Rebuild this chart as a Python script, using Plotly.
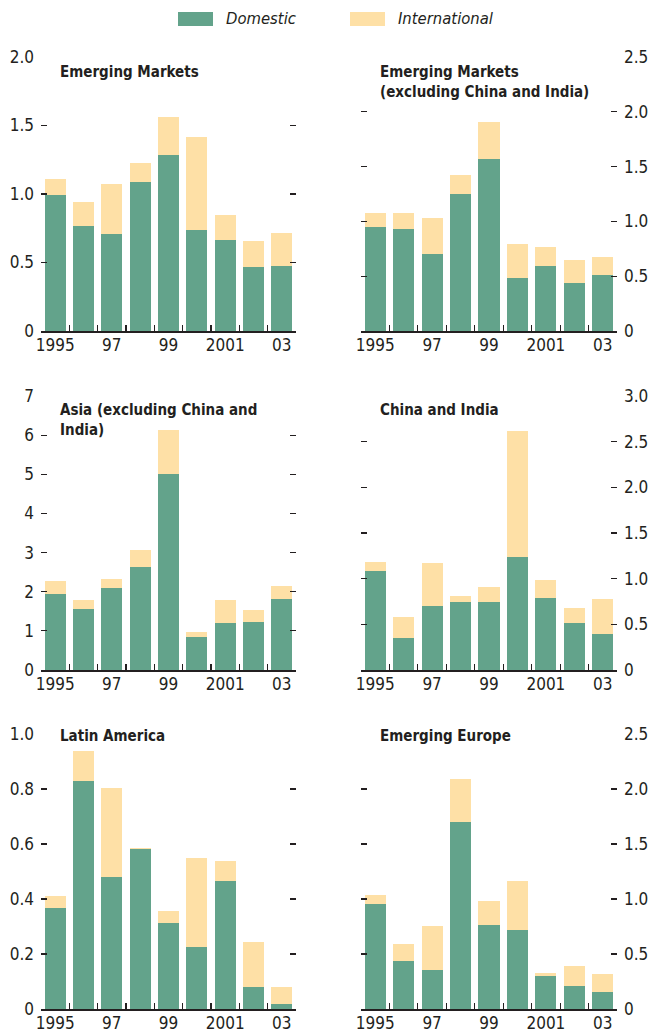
import plotly.graph_objects as go

# ---------------- data ----------------
years = ["1995", "1996", "1997", "1998", "1999", "2000", "2001", "2002", "2003"]
year_labels = ["1995", "", "97", "", "99", "", "2001", "", "03"]

series_names = ["Domestic", "International"]

em_total_dom = [0.99, 0.765, 0.707, 1.086, 1.283, 0.736, 0.663, 0.467, 0.474]
em_total_int = [0.118, 0.175, 0.365, 0.139, 0.277, 0.678, 0.183, 0.189, 0.240]

em_excl_dom = [0.952, 0.933, 0.706, 1.252, 1.570, 0.488, 0.597, 0.442, 0.515]
em_excl_int = [0.127, 0.146, 0.327, 0.172, 0.336, 0.309, 0.173, 0.210, 0.164]

asia_dom = [1.94, 1.56, 2.10, 2.63, 5.01, 0.84, 1.20, 1.23, 1.81]
asia_int = [0.33, 0.23, 0.23, 0.44, 1.12, 0.13, 0.59, 0.30, 0.34]

china_india_dom = [1.084, 0.350, 0.701, 0.745, 0.745, 1.237, 0.788, 0.515, 0.394]
china_india_int = [0.098, 0.230, 0.471, 0.065, 0.164, 1.380, 0.197, 0.164, 0.383]

latam_dom = [0.367, 0.829, 0.480, 0.582, 0.313, 0.225, 0.465, 0.080, 0.018]
latam_int = [0.044, 0.109, 0.324, 0.003, 0.043, 0.324, 0.073, 0.164, 0.062]

europe_dom = [0.955, 0.436, 0.355, 1.700, 0.764, 0.718, 0.300, 0.209, 0.155]
europe_int = [0.081, 0.155, 0.400, 0.391, 0.218, 0.446, 0.027, 0.182, 0.163]

titles = [
    "Emerging Markets",
    "Emerging Markets<br>(excluding China and India)",
    "Asia (excluding China and<br>India)",
    "China and India",
    "Latin America",
    "Emerging Europe",
]

ticks_2 = [0, 0.5, 1.0, 1.5, 2.0]
ticks_2_5 = [0, 0.5, 1.0, 1.5, 2.0, 2.5]
ticks_3 = [0, 0.5, 1.0, 1.5, 2.0, 2.5, 3.0]
ticks_7 = [0, 1, 2, 3, 4, 5, 6, 7]
ticks_1 = [0, 0.2, 0.4, 0.6, 0.8, 1.0]

ticktext_2 = ["0", "0.5", "1.0", "1.5", "2.0"]
ticktext_2_5 = ["0", "0.5", "1.0", "1.5", "2.0", "2.5"]
ticktext_3 = ["0", "0.5", "1.0", "1.5", "2.0", "2.5", "3.0"]
ticktext_7 = ["0", "1", "2", "3", "4", "5", "6", "7"]
ticktext_1 = ["0", "0.2", "0.4", "0.6", "0.8", "1.0"]

# ---------------- style ----------------
GREEN = "#63a38b"
YELLOW = "#fee0a6"
INK = "#231f20"
FONT = "DejaVu Sans Condensed, Liberation Sans Narrow, Arial Narrow, sans-serif"

W, H = 650, 1033
col_px = [(41, 296), (361, 617)]
row_px = [(57, 331), (396, 670), (734, 1009)]

ML = col_px[0][0]
MR = W - col_px[1][1]
MT = row_px[0][0]
MB = H - row_px[2][1]
PW = W - ML - MR
PH = H - MT - MB


def xdom(c):
    a, b = col_px[c]
    return [(a - ML) / PW, (b - ML) / PW]


def ydom(r):
    a, b = row_px[r]
    return [(H - MB - b) / PH, (H - MB - a) / PH]


def px_x(xp):   # pixel -> paper
    return (xp - ML) / PW


def px_y(yp):
    return (H - MB - yp) / PH


panels = [
    (em_total_dom, em_total_int, [0, 2.0], ticks_2, ticktext_2),
    (em_excl_dom, em_excl_int, [0, 2.5], ticks_2_5, ticktext_2_5),
    (asia_dom, asia_int, [0, 7], ticks_7, ticktext_7),
    (china_india_dom, china_india_int, [0, 3.0], ticks_3, ticktext_3),
    (latam_dom, latam_int, [0, 1.0], ticks_1, ticktext_1),
    (europe_dom, europe_int, [0, 2.5], ticks_2_5, ticktext_2_5),
]
title_top_px = [65, 65, 403, 403, 729, 729]

fig = go.Figure()
layout = dict(
    width=W, height=H,
    margin=dict(l=ML, r=MR, t=MT, b=MB, autoexpand=False),
    paper_bgcolor="white", plot_bgcolor="white",
    barmode="stack", bargap=0.26,
    showlegend=False,
    font=dict(family=FONT, size=17, color=INK),
)
annotations = []
shapes = []

for i, (dom, intl, yr, tv, tt) in enumerate(panels):
    n = i + 1
    r, c = divmod(i, 2)
    xa = "x" if n == 1 else f"x{n}"
    ya = "y" if n == 1 else f"y{n}"
    fig.add_trace(go.Bar(x=years, y=dom, name=series_names[0], marker=dict(color=GREEN, line=dict(width=0)),
                         xaxis=xa, yaxis=ya))
    fig.add_trace(go.Bar(x=years, y=intl, name=series_names[1], marker=dict(color=YELLOW, line=dict(width=0)),
                         xaxis=xa, yaxis=ya))
    xkey = "xaxis" if n == 1 else f"xaxis{n}"
    ykey = "yaxis" if n == 1 else f"yaxis{n}"
    layout[xkey] = dict(
        domain=xdom(c), anchor=ya, type="category",
        categoryorder="array", categoryarray=years,
        tickmode="array", tickvals=years, ticktext=year_labels,
        tickson="boundaries", ticks="inside", ticklen=6, tickwidth=1.2, tickcolor=INK,
        showline=True, linecolor=INK, linewidth=1.5,
        showgrid=False, zeroline=False, fixedrange=True,
        tickangle=0, automargin=False, ticklabelstandoff=-2,
        tickfont=dict(family=FONT, size=17, color=INK),
    )
    layout[ykey] = dict(
        domain=ydom(r), anchor=xa, range=yr,
        side="left" if c == 0 else "right",
        tickmode="array", tickvals=tv, ticktext=tt,
        ticks="inside", ticklen=6, tickwidth=1.2, tickcolor=INK, mirror="ticks",
        showline=False, showgrid=False, zeroline=False, fixedrange=True,
        ticklabelstandoff=6, automargin=False,
        tickfont=dict(family=FONT, size=17, color=INK),
    )
    ph = row_px[r][1] - row_px[r][0]
    annotations.append(dict(
        text=titles[i], xref=f"{xa} domain", yref=f"{ya} domain",
        x=17 / 255, y=1 - (title_top_px[i] - 4 - row_px[r][0]) / ph,
        xanchor="left", yanchor="top", align="left", showarrow=False,
        font=dict(family=FONT, size=15, color=INK, weight="bold"),
    ))

# legend (swatches + labels)
legend_items = [(GREEN, series_names[0], 178, 213, 224), (YELLOW, series_names[1], 350, 385, 396)]
for color, label, x0, x1, xt in legend_items:
    shapes.append(dict(type="rect", xref="paper", yref="paper",
                       x0=px_x(x0), x1=px_x(x1), y0=px_y(26), y1=px_y(12),
                       fillcolor=color, line=dict(width=0)))
    annotations.append(dict(text=label, xref="paper", yref="paper",
                            x=px_x(xt), y=px_y(19),
                            xanchor="left", yanchor="middle", showarrow=False,
                            font=dict(family=FONT, size=16.5, color=INK, style="italic")))

layout["annotations"] = annotations
layout["shapes"] = shapes
fig.update_layout(**layout)
fig.write_html(
    "out.html",
    config={"displayModeBar": False, "staticPlot": True},
    post_script="document.body.style.margin='0';document.body.style.overflow='hidden';",
)
